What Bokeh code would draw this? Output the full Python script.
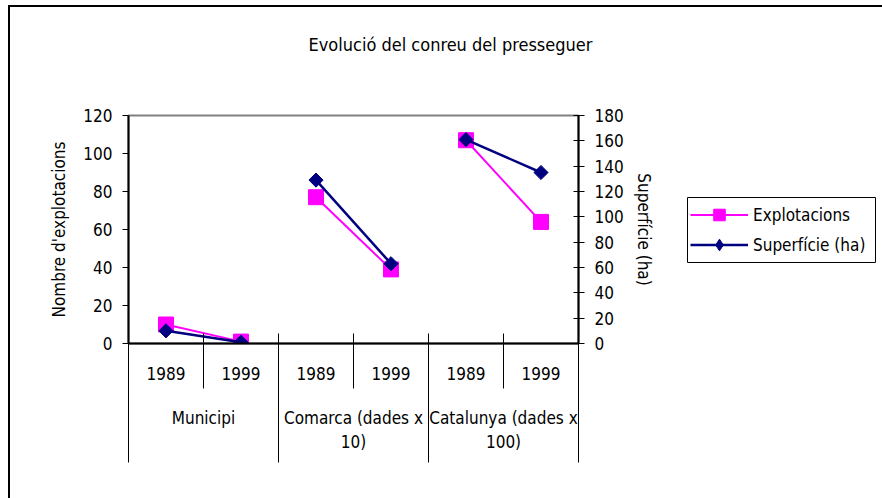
import numpy as np
from bokeh.plotting import figure
from bokeh.layouts import row
from bokeh.models import (Range1d, LinearAxis, FixedTicker, Legend, LegendItem, Title,
                          BoxAnnotation)
from bokeh.embed import file_html
from bokeh.resources import INLINE

# ---- data ----
title_text = "Evolució del conreu del presseguer"
years = ["1989", "1999", "1989", "1999", "1989", "1999"]
groups = ["Municipi", "Comarca (dades x\n10)", "Catalunya (dades x\n100)"]
explotacions = [10, 1, 77, 39, 107, 64]
superficie = [10, 1, 129, 63, 161, 135]
left_ticks = [0, 20, 40, 60, 80, 100, 120]
right_ticks = [0, 20, 40, 60, 80, 100, 120, 140, 160, 180]
left_label = "Nombre d'explotacions"
right_label = "Superfície (ha)"
series_names = ["Explotacions", "Superfície (ha)"]

FONT = "DejaVu Sans Condensed"
FS = "17px"
MAGENTA = "#FF00FF"
NAVY = "#000080"

n = len(years)
per_group = n // len(groups)
x = [i + 0.5 for i in range(n)]
group_centers = [(g + 0.5) * per_group for g in range(len(groups))]
group_edges = [g * per_group for g in range(len(groups) + 1)]
all_edges = list(range(n + 1))
xs = [x[g * per_group:(g + 1) * per_group] for g in range(len(groups))]
ys1 = [explotacions[g * per_group:(g + 1) * per_group] for g in range(len(groups))]
ys2 = [superficie[g * per_group:(g + 1) * per_group] for g in range(len(groups))]

# ================= main chart =================
p = figure(width=686, height=498, output_backend="svg", toolbar_location=None,
           title=None,
           x_range=Range1d(0, n), y_range=Range1d(0, left_ticks[-1]),
           min_border_left=128, min_border_right=108, min_border_top=115,
           min_border_bottom=155)
p.extra_y_ranges = {"right": Range1d(0, right_ticks[-1])}
p.border_fill_alpha = 0
p.xgrid.visible = False
p.ygrid.visible = False
p.outline_line_color = "#808080"
p.outline_line_width = 2
p.background_fill_color = "white"

# title (with an empty spacer between it and the plot area)
spacer = Title(text=" ", standoff=24, text_font=FONT, text_font_size="17px")
ttl = Title(text=title_text, align="left", offset=180, standoff=29, text_font=FONT,
            text_font_size="18px", text_font_style="normal", text_color="black")
p.add_layout(spacer, "above")
p.add_layout(ttl, "above")

# left axis
ya = p.yaxis[0]
ya.ticker = FixedTicker(ticks=left_ticks)
ya.major_tick_in = 0
ya.major_tick_out = 6
ya.minor_tick_line_color = None
ya.axis_line_width = 2
ya.axis_line_color = "black"
ya.major_tick_line_color = "black"
ya.major_label_standoff = 10
ya.major_label_text_font = FONT
ya.major_label_text_font_size = FS
ya.major_label_text_color = "black"
ya.axis_label = left_label
ya.axis_label_text_font = FONT
ya.axis_label_text_font_size = FS
ya.axis_label_text_font_style = "normal"
ya.axis_label_text_color = "black"
ya.axis_label_standoff = 11

# right axis
ra = LinearAxis(y_range_name="right", ticker=FixedTicker(ticks=right_ticks))
ra.major_tick_in = 5
ra.major_tick_out = 6
ra.minor_tick_line_color = None
ra.axis_line_width = 2
ra.axis_line_color = "black"
ra.major_tick_line_color = "black"
ra.major_label_standoff = 10
ra.major_label_text_font = FONT
ra.major_label_text_font_size = FS
ra.major_label_text_color = "black"
ra.axis_label = right_label
ra.axis_label_text_font = FONT
ra.axis_label_text_font_size = FS
ra.axis_label_text_font_style = "normal"
ra.axis_label_text_color = "black"
ra.axis_label_standoff = 7
p.add_layout(ra, "right")

# bottom axis 1: years
xa = p.xaxis[0]
xa.ticker = FixedTicker(ticks=x, minor_ticks=all_edges)
xa.major_label_overrides = {xv: yr for xv, yr in zip(x, years)}
xa.major_tick_in = 0
xa.major_tick_out = 0
xa.minor_tick_in = 6
xa.minor_tick_out = 0
xa.axis_line_width = 2
xa.axis_line_color = "black"
xa.minor_tick_line_color = "black"
xa.major_label_standoff = 23
xa.major_label_text_font = FONT
xa.major_label_text_font_size = FS
xa.major_label_text_color = "black"

# bottom axis 2: groups, separators drawn upward/downward from it
xb = LinearAxis(ticker=FixedTicker(ticks=group_centers, minor_ticks=group_edges))
xb.major_label_overrides = {c: gname for c, gname in zip(group_centers, groups)}
xb.major_tick_in = 49
xb.major_tick_out = 6
xb.minor_tick_in = 49
xb.minor_tick_out = 80
xb.axis_line_color = None
xb.major_tick_line_color = "black"
xb.minor_tick_line_color = "black"
xb.major_label_standoff = -55
xb.major_label_text_font = FONT
xb.major_label_text_font_size = FS
xb.major_label_text_color = "black"
p.add_layout(xb, "below")

l1 = p.multi_line(xs, ys1, line_color=MAGENTA, line_width=2)
s1 = p.scatter(x, explotacions, marker="square", size=15, fill_color=MAGENTA,
               line_color=MAGENTA)
l2 = p.multi_line(xs, ys2, line_color=NAVY, line_width=2.5, y_range_name="right")
s2 = p.scatter(x, superficie, marker="square", angle=np.pi / 4, size=10,
               fill_color=NAVY, line_color=NAVY, y_range_name="right")

# ================= legend panel =================
# frame of q is 196 x 228 px; its ranges are set 1 unit = 1 px for the legend box
q = figure(width=196, height=498, output_backend="svg", toolbar_location=None,
           x_range=Range1d(0, 196), y_range=Range1d(0, 228),
           min_border_left=0, min_border_right=0, min_border_top=115,
           min_border_bottom=155)
q.extra_x_ranges = {"off": Range1d(-100, -99)}
q.extra_y_ranges = {"off": Range1d(-100, -99)}
q.axis.visible = False
q.grid.visible = False
q.outline_line_color = None
q.border_fill_alpha = 0
q.background_fill_alpha = 0
m1 = q.multi_line(xs, ys1, line_color=MAGENTA, line_width=2,
                  x_range_name="off", y_range_name="off")
n1 = q.scatter(x, explotacions, marker="square", size=15, fill_color=MAGENTA,
               line_color=MAGENTA, x_range_name="off", y_range_name="off")
m2 = q.multi_line(xs, ys2, line_color=NAVY, line_width=2.5,
                  x_range_name="off", y_range_name="off")
n2 = q.scatter(x, superficie, marker="diamond", size=15, fill_color=NAVY,
               line_color=NAVY, x_range_name="off", y_range_name="off")

q.add_layout(BoxAnnotation(left=1, right=189, bottom=81, top=146, fill_alpha=0,
                           fill_color=None, line_color="black", line_width=1,
                           line_alpha=1))

legend = Legend(items=[LegendItem(label=series_names[0], renderers=[m1, n1]),
                       LegendItem(label=series_names[1], renderers=[m2, n2])],
                location=(4, 84))
legend.glyph_width = 58
legend.glyph_height = 29
legend.label_height = 29
legend.spacing = 1
legend.padding = 3
legend.margin = 0
legend.label_standoff = 5
legend.label_text_font = FONT
legend.label_text_font_size = FS
legend.label_text_color = "black"
legend.border_line_color = None
legend.background_fill_alpha = 0
q.add_layout(legend)

layout = row(p, q, styles={"box-shadow": "inset 8px 5px 0 0 white, inset 10px 7px 0 0 black",
                           "background": "white"})

open("out.html", "w").write(file_html(layout, INLINE))
